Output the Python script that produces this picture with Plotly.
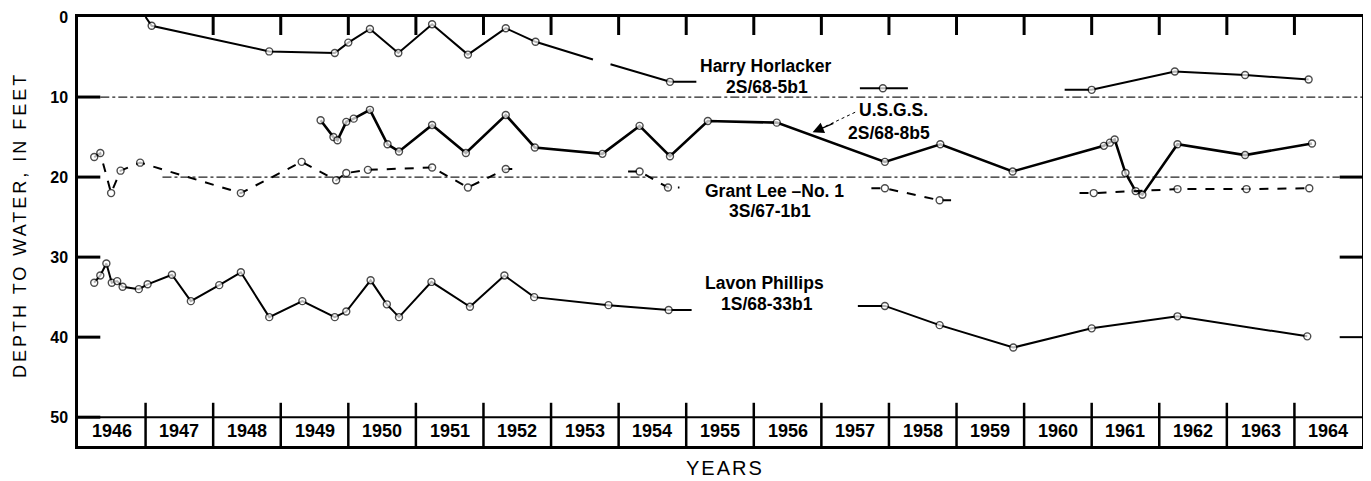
import plotly.graph_objects as go

# ---------------- data (decimal years, depth to water in feet) ----------------
years = list(range(1946, 1965))
year_labels = [str(y) for y in years]
depth_ticks = [0, 10, 20, 30, 40, 50]

# Harry Horlacker 2S/68-5b1  (None = break in record; mark 0 = line end without measurement)
horl_x = [1947.00, 1947.09, 1948.83, 1949.80, 1950.00, 1950.32, 1950.74, 1951.24, 1951.77, 1952.33,
          1952.77, 1953.62, None, 1953.88, 1954.76, 1955.15, None, 1957.57, 1957.91, 1958.28, None,
          1960.60, 1961.00, 1962.23, 1963.27, 1964.21]
horl_y = [0.0, 1.1, 4.3, 4.5, 3.2, 1.5, 4.5, 0.9, 4.7, 1.4,
          3.1, 5.3, None, 5.9, 8.1, 8.1, None, 8.9, 8.9, 8.9, None,
          9.1, 9.1, 6.8, 7.25, 7.8]
horl_m = [0, 1, 1, 1, 1, 1, 1, 1, 1, 1,
          1, 0, 0, 0, 1, 0, 0, 0, 1, 0, 0,
          0, 1, 1, 1, 1]

# U.S.G.S. 2S/68-8b5
usgs_x = [1949.59, 1949.78, 1949.84, 1949.97, 1950.08, 1950.32, 1950.58, 1950.75, 1951.24, 1951.74,
          1952.33, 1952.76, 1953.76, 1954.31, 1954.76, 1955.32, 1956.34, 1957.94, 1958.76, 1959.83,
          1961.18, 1961.27, 1961.34, 1961.50, 1961.65, 1961.75, 1962.27, 1963.27, 1964.26]
usgs_y = [12.9, 15.0, 15.4, 13.1, 12.7, 11.6, 15.9, 16.8, 13.5, 17.0,
          12.25, 16.3, 17.1, 13.6, 17.4, 13.0, 13.2, 18.1, 15.9, 19.3,
          16.1, 15.7, 15.3, 19.5, 21.75, 22.2, 15.9, 17.25, 15.8]
usgs_m = [1] * len(usgs_x)

# Grant Lee - No. 1  3S/67-1b1
lee_x = [1946.24, 1946.33, 1946.49, 1946.63, 1946.92, 1948.41, 1949.31, 1949.82, 1949.97, 1950.29,
         1951.24, 1951.77, 1952.33, 1952.50, None, 1954.14, 1954.31, 1954.73, 1954.90, None,
         1957.74, 1957.94, 1958.75, 1958.94, None, 1960.82, 1961.03, 1962.27, 1963.29, 1964.22]
lee_y = [17.5, 17.0, 22.0, 19.2, 18.2, 22.0, 18.1, 20.4, 19.5, 19.1,
         18.8, 21.3, 19.0, 19.0, None, 19.3, 19.3, 21.3, 21.3, None,
         21.4, 21.4, 22.9, 22.9, None, 22.0, 22.0, 21.5, 21.5, 21.4]
lee_m = [1, 1, 1, 1, 1, 1, 1, 1, 1, 1,
         1, 1, 1, 0, 0, 0, 1, 1, 0, 0,
         0, 1, 1, 0, 0, 0, 1, 1, 1, 1]

# Lavon Phillips 1S/68-33b1
lavon_x = [1946.24, 1946.33, 1946.42, 1946.50, 1946.58, 1946.66, 1946.90, 1947.03, 1947.39, 1947.67,
           1948.09, 1948.41, 1948.83, 1949.32, 1949.80, 1949.97, 1950.33, 1950.57, 1950.75, 1951.23,
           1951.80, 1952.31, 1952.75, 1953.85, 1954.74, 1955.08, None, 1957.54, 1957.94, 1958.75,
           1959.84, 1961.00, 1962.27, 1964.19]
lavon_y = [33.2, 32.3, 30.8, 33.2, 33.0, 33.7, 34.0, 33.4, 32.2, 35.5,
           33.5, 31.9, 37.5, 35.5, 37.5, 36.8, 32.9, 35.9, 37.5, 33.1,
           36.2, 32.3, 35.0, 36.0, 36.6, 36.6, None, 36.1, 36.1, 38.5,
           41.3, 38.9, 37.4, 39.9]
lavon_m = [1] * 25 + [0, 0, 0] + [1] * 6

# well labels: (x, y, text)
well_labels = [
    (1956.18, 6.1, "Harry Horlacker"), (1956.2, 8.7, "2S/68-5b1"),
    (1958.06, 11.6, "U.S.G.S."), (1958.0, 14.5, "2S/68-8b5"),
    (1956.3, 21.8, "Grant Lee \u2013No. 1"), (1956.24, 24.3, "3S/67-1b1"),
    (1956.16, 33.25, "Lavon Phillips"), (1956.2, 35.9, "1S/68-33b1"),
]

FONT = "Liberation Sans, Arial, Helvetica, sans-serif"

# plot box in page pixels (page body has an 8px margin)
PAGE_OFF = 8
W, H = 1371 - PAGE_OFF, 481 - PAGE_OFF
PL, PR, PT, PB = 78, 1362, 17, 446
PW, PH = PR - PL, PB - PT


def trace(x, y, m, width, dash="solid"):
    sizes = [7 if v else 0 for v in m]
    return go.Scatter(x=x, y=y, mode="lines+markers", connectgaps=False,
                      line=dict(color="black", width=width, dash=dash),
                      marker=dict(size=sizes, color="white", symbol="circle",
                                  line=dict(color="black", width=1.4)),
                      showlegend=False, hoverinfo="skip")


fig = go.Figure()
fig.add_trace(trace(horl_x, horl_y, horl_m, 2.0))
fig.add_trace(trace(usgs_x, usgs_y, usgs_m, 2.6))
fig.add_trace(trace(lee_x, lee_y, lee_m, 2.0, "dash"))
fig.add_trace(trace(lavon_x, lavon_y, lavon_m, 2.0))

shapes = []
# dash-dot reference lines at 10 and 20 ft
for yv, x0, x1 in [(10, 1946.33, 1965), (20, 1947.25, 1964.67)]:
    shapes.append(dict(type="line", xref="x", yref="y", x0=x0, x1=x1, y0=yv, y1=yv, layer="below",
                       line=dict(color="#222", width=1.2, dash="dashdot")))
# strip top line at 50 ft
shapes.append(dict(type="line", xref="x", yref="y", x0=1946, x1=1965, y0=50, y1=50,
                   line=dict(color="black", width=2)))
# year separators in strip and top ticks
for yr in years[1:]:
    shapes.append(dict(type="line", xref="x", yref="y", x0=yr, x1=yr, y0=48.2, y1=53.6,
                       line=dict(color="black", width=2.5)))
    if yr >= 1948:
        shapes.append(dict(type="line", xref="x", yref="y", x0=yr, x1=yr, y0=0, y1=2.25,
                           line=dict(color="black", width=3)))
# left ticks
for yv in [10, 20, 30, 40, 50]:
    shapes.append(dict(type="line", xref="x", yref="y", x0=1946, x1=1946.33, y0=yv, y1=yv,
                       line=dict(color="black", width=3)))
# right ticks
for yv in [20, 30, 40]:
    shapes.append(dict(type="line", xref="x", yref="y", x0=1964.67, x1=1965, y0=yv, y1=yv,
                       line=dict(color="black", width=3 if yv != 40 else 2)))
# dashed leader for U.S.G.S. label
shapes.append(dict(type="line", xref="x", yref="y", x0=1957.5, x1=1956.95, y0=11.9, y1=14.1,
                   line=dict(color="black", width=1, dash="dot")))

LBL = dict(family=FONT, size=17.5, color="black")
annotations = []
for yr, lab in zip(years, year_labels):
    annotations.append(dict(x=yr + 0.5, y=51.75, xref="x", yref="y", text="<b>" + lab + "</b>",
                            showarrow=False, font=dict(family=FONT, size=18, color="black")))
for x, y, t in well_labels:
    annotations.append(dict(x=x, y=y, xref="x", yref="y", text="<b>" + t + "</b>",
                            showarrow=False, font=LBL))
annotations.append(dict(x=1956.87, y=14.4, ax=1957.2, ay=13.2, xref="x", yref="y", axref="x", ayref="y",
                        text="", showarrow=True, arrowhead=2, arrowsize=1.6, arrowwidth=1.4,
                        arrowcolor="black"))
annotations.append(dict(x=(724.5 - PL) / PW, y=-(467.5 - PB) / PH, xref="paper", yref="paper",
                        xanchor="center", yanchor="middle",
                        text='<span style="letter-spacing:2px">YEARS</span>', showarrow=False,
                        font=dict(family=FONT, size=20, color="black")))
annotations.append(dict(x=-(PL - 20) / PW, y=(PB - 225) / PH, xref="paper", yref="paper",
                        xanchor="center", yanchor="middle", textangle=-90,
                        text='<span style="letter-spacing:3px">DEPTH TO WATER, IN FEET</span>',
                        showarrow=False, font=dict(family=FONT, size=18, color="black")))

fig.update_layout(
    width=W, height=H,
    margin=dict(l=PL - PAGE_OFF, r=1371 - PR, t=PT - PAGE_OFF, b=481 - PB),
    paper_bgcolor="white", plot_bgcolor="white",
    shapes=shapes, annotations=annotations,
    xaxis=dict(range=[1946, 1965], showticklabels=False, showgrid=False, zeroline=False,
               showline=True, mirror=True, linecolor="black", linewidth=2.5, ticks="",
               automargin=False),
    yaxis=dict(range=[53.6, 0], tickvals=depth_ticks,
               ticktext=["<b>%d</b>" % v for v in depth_ticks],
               showgrid=False, zeroline=False, showline=True, mirror=True, linecolor="black",
               linewidth=2.5, ticks="", ticklabelstandoff=4, automargin=False,
               tickfont=dict(family=FONT, size=16, color="black")),
)

fig.write_html("out.html")
